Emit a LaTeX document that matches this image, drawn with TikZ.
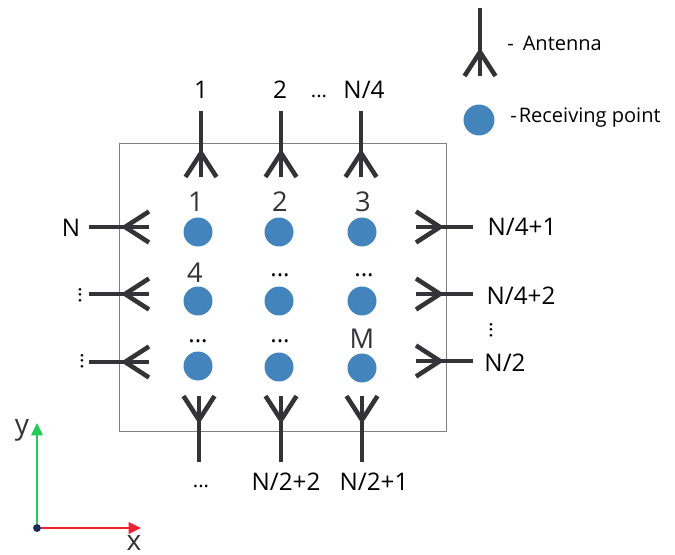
\documentclass[tikz,border=0pt]{standalone}
\usepackage{fontspec}
\setmainfont{Open Sans}
\usetikzlibrary{arrows.meta}
\definecolor{antcol}{HTML}{333338}
\definecolor{ptcol}{HTML}{4484BC}
\definecolor{axgreen}{HTML}{22CC55}
\definecolor{axred}{HTML}{EE2233}
\definecolor{axdot}{HTML}{1F2A55}
\tikzset{
  antline/.style={antcol,line width=2.6pt},
  rxpoint/.style={circle,fill=ptcol,inner sep=0pt,minimum size=16.5pt},
  lab/.style={inner sep=0pt,font=\fontsize{13.8}{15}\selectfont,text=black},
  dotlab/.style={inner sep=0pt,font=\fontsize{11.5}{14}\selectfont,text=black},
  leglab/.style={inner sep=0pt,anchor=west,font=\fontsize{11.4}{14}\selectfont,text=black},
  numlab/.style={inner sep=0pt,font=\fontsize{15.5}{17}\selectfont,text=antcol},
  axislab/.style={inner sep=0pt,font=\fontsize{16}{18}\selectfont,text=antcol},
  axis/.style={line width=1.2pt,-{Triangle[length=7pt,width=6.5pt]}}
}
\newcommand{\antenna}[4]{
  \begin{scope}[shift={(#1,#2)},rotate=#3]
    \draw[antline] (0,0) -- (0,#4+24);
    \draw[antline] (-15.5,#4+24) -- (0,#4) -- (15.5,#4+24);
  \end{scope}
}
\begin{document}
\begin{tikzpicture}[x=0.02cm,y=-0.02cm]
    \useasboundingbox (0,0) rectangle (675,554);
    \draw[gray,line width=0.5pt] (119,143) rectangle (446,431);

    \antenna{201}{111}{0}{42}
    \antenna{281}{111}{0}{42}
    \antenna{361}{111}{0}{42}
    \antenna{199}{462}{180}{42}
    \antenna{281}{462}{180}{42}
    \antenna{362}{462}{180}{42}
    \antenna{89}{227}{90}{36}
    \antenna{89}{294}{90}{36}
    \antenna{89}{362}{90}{36}
    \antenna{473}{227}{-90}{33}
    \antenna{473}{294}{-90}{33}
    \antenna{473}{361}{-90}{33}
    \antenna{480}{8}{0}{44}

    \node[rxpoint] (p11) at (198,232) {};
    \node[rxpoint] (p12) at (279,232) {};
    \node[rxpoint] (p13) at (362,232) {};
    \node[rxpoint] (p21) at (198,301) {};
    \node[rxpoint] (p22) at (279,301) {};
    \node[rxpoint] (p23) at (362,301) {};
    \node[rxpoint] (p31) at (198,366) {};
    \node[rxpoint] (p32) at (279,367) {};
    \node[rxpoint] (p33) at (362,368) {};
    \node[rxpoint,minimum size=17.6pt] (legpt) at (479,120) {};

    \node[numlab] (n1) at (196,202) {1};
    \node[numlab] (n2) at (280,202) {2};
    \node[numlab] (n3) at (363,202) {3};
    \node[numlab] (n4) at (195,273) {4};
    \node[numlab] (nm) at (362,339) {M};
    \node[lab] (d22) at (280,275) {...};
    \node[lab] (d23) at (364,275) {...};
    \node[lab] (d31) at (198,341) {...};
    \node[lab] (d32) at (280,341) {...};

    \node[lab] (t1) at (201,90) {1};
    \node[lab] (t2) at (280,90) {2};
    \node[dotlab] (tdots) at (319,96) {...};
    \node[lab] (tn) at (364,90) {N/4};
    \node[lab] (ln) at (71,228) {N};
    \node[dotlab,rotate=90] (ld1) at (80,295) {...};
    \node[dotlab,rotate=90] (ld2) at (82,361) {...};
    \node[lab] (r1) at (522,227) {N/4+1};
    \node[lab] (r2) at (521,296) {N/4+2};
    \node[dotlab,rotate=90] (rd) at (491,330) {...};
    \node[lab] (r3) at (505,363) {N/2};
    \node[dotlab] (b1) at (201,486) {...};
    \node[lab] (b2) at (286,482) {N/2+2};
    \node[lab] (b3) at (374,482) {N/2+1};

    \node[leglab] (legant) at (507,43) {-\hspace{0.45em}Antenna};
    \node[leglab] (legrx) at (510,118) {-\hspace{0.1em}Receiving point};

    \node[axislab] (ylab) at (22,430) {y};
    \node[axislab] (xlab) at (134,543) {x};
    \coordinate (xtip) at (141,528);
    \coordinate (ytip) at (37,423);
    \node[circle,fill=axdot,inner sep=0pt,minimum size=4.5pt] (orig) at (37,528) {};
    \draw[axis,axred] (orig) -- (xtip);
    \draw[axis,axgreen] (orig) -- (ytip);
\end{tikzpicture}
\end{document}
